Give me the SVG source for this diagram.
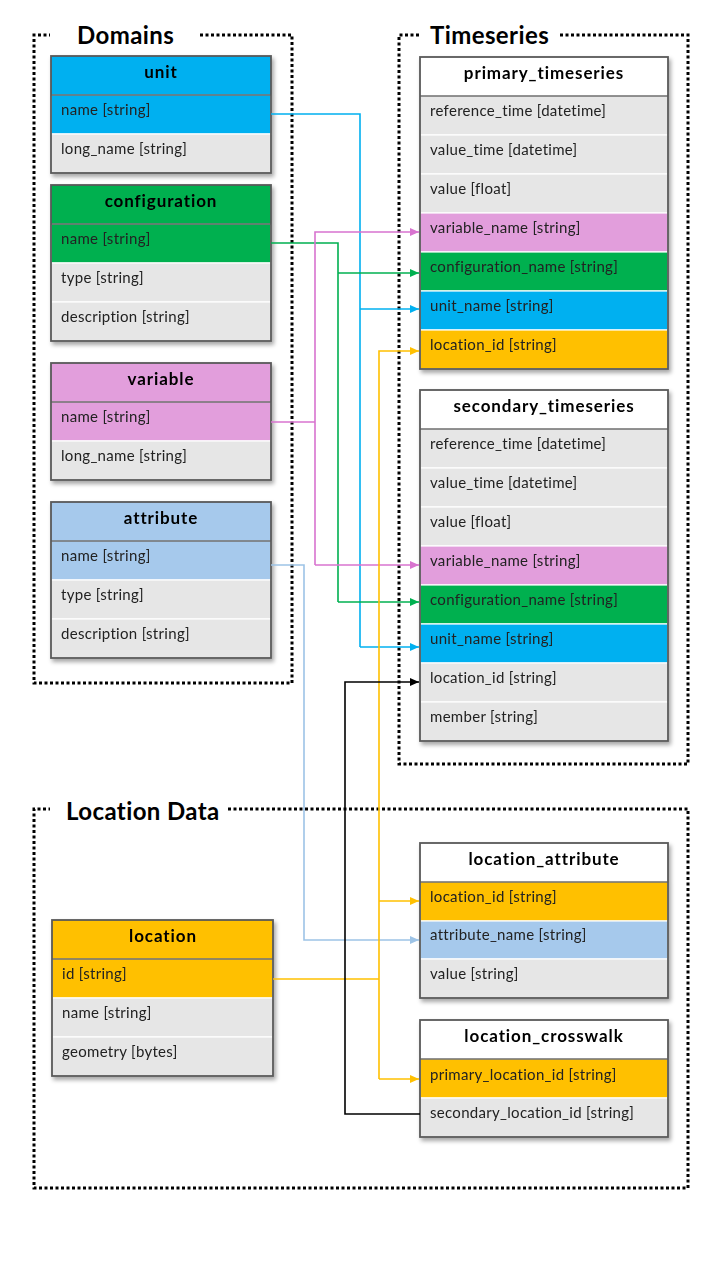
<svg xmlns="http://www.w3.org/2000/svg" width="720" height="1280" viewBox="0 0 720 1280">
<style>
.bg{fill:#ffffff}
.grp{fill:none;stroke:#000;stroke-width:3;stroke-dasharray:3 2.5}
.gt{font-family:Lato,"Liberation Sans",sans-serif;font-weight:bold;font-size:24px;letter-spacing:0.4px;fill:#000}
.hd{font-family:Lato,"Liberation Sans",sans-serif;font-weight:bold;font-size:17px;letter-spacing:0.9px;fill:#000;text-anchor:middle}
.rt{font-family:Lato,"Liberation Sans",sans-serif;font-size:15px;letter-spacing:0.3px;fill:#222}
.row{stroke:#ffffff;stroke-width:1.2}
.ol{fill:none;stroke:#595959;stroke-width:1.8}
.hl{stroke:#262626;stroke-width:1.2}
.gray{fill:#e6e6e6}
.white{fill:#ffffff}
.blue{fill:#00b0f0}
.green{fill:#00b050}
.pink{fill:#e29edc}
.lblue{fill:#a6c9ec}
.yellow{fill:#ffc000}
.c{fill:none;stroke-width:1.6}
</style>
<defs>
<filter id="sh" x="-10%" y="-10%" width="130%" height="130%">
<feDropShadow dx="2" dy="3" stdDeviation="2" flood-color="#000" flood-opacity="0.35"/>
</filter>
<marker id="aBlue" markerWidth="10" markerHeight="10" refX="9" refY="5" orient="auto" markerUnits="userSpaceOnUse"><path d="M0,1 L9,5 L0,9 Z" fill="#00b0f0"/></marker>
<marker id="aGreen" markerWidth="10" markerHeight="10" refX="9" refY="5" orient="auto" markerUnits="userSpaceOnUse"><path d="M0,1 L9,5 L0,9 Z" fill="#00b050"/></marker>
<marker id="aPink" markerWidth="10" markerHeight="10" refX="9" refY="5" orient="auto" markerUnits="userSpaceOnUse"><path d="M0,1 L9,5 L0,9 Z" fill="#d873cf"/></marker>
<marker id="aLBlue" markerWidth="10" markerHeight="10" refX="9" refY="5" orient="auto" markerUnits="userSpaceOnUse"><path d="M0,1 L9,5 L0,9 Z" fill="#9dc3e6"/></marker>
<marker id="aYellow" markerWidth="10" markerHeight="10" refX="9" refY="5" orient="auto" markerUnits="userSpaceOnUse"><path d="M0,1 L9,5 L0,9 Z" fill="#ffc000"/></marker>
<marker id="aBlack" markerWidth="10" markerHeight="10" refX="9" refY="5" orient="auto" markerUnits="userSpaceOnUse"><path d="M0,1 L9,5 L0,9 Z" fill="#000"/></marker>
</defs>
<rect class="bg" x="0" y="0" width="720" height="1280"/>

<g id="groups">
<path class="grp" d="M200,35 H292 V683 H34 V35 H50"/>
<text class="gt" x="77" y="44">Domains</text>
<path class="grp" d="M560,35 H688 V764 H399 V35 H420"/>
<text class="gt" x="430" y="44">Timeseries</text>
<path class="grp" d="M228,809 H688 V1188 H34 V809 H50"/>
<text class="gt" x="66" y="820">Location Data</text>
</g>

<g id="unit" filter="url(#sh)">
<rect class="blue" x="51" y="56" width="220" height="39"/>
<rect class="blue row" x="51" y="95" width="220" height="39"/>
<rect class="gray row" x="51" y="134" width="220" height="39"/>
<line class="hl" x1="51" y1="95" x2="271" y2="95"/>
<rect class="ol" x="51" y="56" width="220" height="117"/>
<text class="hd" x="161" y="78">unit</text>
<text class="rt" x="61" y="115">name [string]</text>
<text class="rt" x="61" y="154">long_name [string]</text>
</g>

<g id="configuration" filter="url(#sh)">
<rect class="green" x="51" y="185" width="220" height="39"/>
<rect class="green row" x="51" y="224" width="220" height="39"/>
<rect class="gray row" x="51" y="263" width="220" height="39"/>
<rect class="gray row" x="51" y="302" width="220" height="39"/>
<line class="hl" x1="51" y1="224" x2="271" y2="224"/>
<rect class="ol" x="51" y="185" width="220" height="156"/>
<text class="hd" x="161" y="207">configuration</text>
<text class="rt" x="61" y="244">name [string]</text>
<text class="rt" x="61" y="283">type [string]</text>
<text class="rt" x="61" y="322">description [string]</text>
</g>

<g id="variable" filter="url(#sh)">
<rect class="pink" x="51" y="363" width="220" height="39"/>
<rect class="pink row" x="51" y="402" width="220" height="39"/>
<rect class="gray row" x="51" y="441" width="220" height="39"/>
<line class="hl" x1="51" y1="402" x2="271" y2="402"/>
<rect class="ol" x="51" y="363" width="220" height="117"/>
<text class="hd" x="161" y="385">variable</text>
<text class="rt" x="61" y="422">name [string]</text>
<text class="rt" x="61" y="461">long_name [string]</text>
</g>

<g id="attribute" filter="url(#sh)">
<rect class="lblue" x="51" y="502" width="220" height="39"/>
<rect class="lblue row" x="51" y="541" width="220" height="39"/>
<rect class="gray row" x="51" y="580" width="220" height="39"/>
<rect class="gray row" x="51" y="619" width="220" height="39"/>
<line class="hl" x1="51" y1="541" x2="271" y2="541"/>
<rect class="ol" x="51" y="502" width="220" height="156"/>
<text class="hd" x="161" y="524">attribute</text>
<text class="rt" x="61" y="561">name [string]</text>
<text class="rt" x="61" y="600">type [string]</text>
<text class="rt" x="61" y="639">description [string]</text>
</g>

<g id="primary_timeseries" filter="url(#sh)">
<rect class="white" x="420" y="57" width="248" height="39"/>
<rect class="gray row" x="420" y="96" width="248" height="39"/>
<rect class="gray row" x="420" y="135" width="248" height="39"/>
<rect class="gray row" x="420" y="174" width="248" height="39"/>
<rect class="pink row" x="420" y="213" width="248" height="39"/>
<rect class="green row" x="420" y="252" width="248" height="39"/>
<rect class="blue row" x="420" y="291" width="248" height="39"/>
<rect class="yellow row" x="420" y="330" width="248" height="39"/>
<line class="hl" x1="420" y1="96" x2="668" y2="96"/>
<rect class="ol" x="420" y="57" width="248" height="312"/>
<text class="hd" x="544" y="79">primary_timeseries</text>
<text class="rt" x="430" y="116">reference_time [datetime]</text>
<text class="rt" x="430" y="155">value_time [datetime]</text>
<text class="rt" x="430" y="194">value [float]</text>
<text class="rt" x="430" y="233">variable_name [string]</text>
<text class="rt" x="430" y="272">configuration_name [string]</text>
<text class="rt" x="430" y="311">unit_name [string]</text>
<text class="rt" x="430" y="350">location_id [string]</text>
</g>

<g id="secondary_timeseries" filter="url(#sh)">
<rect class="white" x="420" y="390" width="248" height="39"/>
<rect class="gray row" x="420" y="429" width="248" height="39"/>
<rect class="gray row" x="420" y="468" width="248" height="39"/>
<rect class="gray row" x="420" y="507" width="248" height="39"/>
<rect class="pink row" x="420" y="546" width="248" height="39"/>
<rect class="green row" x="420" y="585" width="248" height="39"/>
<rect class="blue row" x="420" y="624" width="248" height="39"/>
<rect class="gray row" x="420" y="663" width="248" height="39"/>
<rect class="gray row" x="420" y="702" width="248" height="39"/>
<line class="hl" x1="420" y1="429" x2="668" y2="429"/>
<rect class="ol" x="420" y="390" width="248" height="351"/>
<text class="hd" x="544" y="412">secondary_timeseries</text>
<text class="rt" x="430" y="449">reference_time [datetime]</text>
<text class="rt" x="430" y="488">value_time [datetime]</text>
<text class="rt" x="430" y="527">value [float]</text>
<text class="rt" x="430" y="566">variable_name [string]</text>
<text class="rt" x="430" y="605">configuration_name [string]</text>
<text class="rt" x="430" y="644">unit_name [string]</text>
<text class="rt" x="430" y="683">location_id [string]</text>
<text class="rt" x="430" y="722">member [string]</text>
</g>

<g id="location" filter="url(#sh)">
<rect class="yellow" x="52" y="920" width="221" height="39"/>
<rect class="yellow row" x="52" y="959" width="221" height="39"/>
<rect class="gray row" x="52" y="998" width="221" height="39"/>
<rect class="gray row" x="52" y="1037" width="221" height="39"/>
<line class="hl" x1="52" y1="959" x2="273" y2="959"/>
<rect class="ol" x="52" y="920" width="221" height="156"/>
<text class="hd" x="163" y="942">location</text>
<text class="rt" x="62" y="979">id [string]</text>
<text class="rt" x="62" y="1018">name [string]</text>
<text class="rt" x="62" y="1057">geometry [bytes]</text>
</g>

<g id="location_attribute" filter="url(#sh)">
<rect class="white" x="420" y="843" width="248" height="39"/>
<rect class="yellow row" x="420" y="882" width="248" height="39"/>
<rect class="lblue row" x="420" y="921" width="248" height="38"/>
<rect class="gray row" x="420" y="959" width="248" height="39"/>
<line class="hl" x1="420" y1="882" x2="668" y2="882"/>
<rect class="ol" x="420" y="843" width="248" height="155"/>
<text class="hd" x="544" y="865">location_attribute</text>
<text class="rt" x="430" y="902">location_id [string]</text>
<text class="rt" x="430" y="940">attribute_name [string]</text>
<text class="rt" x="430" y="979">value [string]</text>
</g>

<g id="location_crosswalk" filter="url(#sh)">
<rect class="white" x="420" y="1020" width="248" height="39"/>
<rect class="yellow row" x="420" y="1059" width="248" height="39"/>
<rect class="gray row" x="420" y="1098" width="248" height="39"/>
<line class="hl" x1="420" y1="1059" x2="668" y2="1059"/>
<rect class="ol" x="420" y="1020" width="248" height="117"/>
<text class="hd" x="544" y="1042">location_crosswalk</text>
<text class="rt" x="430" y="1080">primary_location_id [string]</text>
<text class="rt" x="430" y="1118">secondary_location_id [string]</text>
</g>

<g id="connectors">
<path class="c" stroke="#00b0f0" d="M271,114 H360 V647"/>
<path class="c" stroke="#00b0f0" d="M360,309 H419" marker-end="url(#aBlue)"/>
<path class="c" stroke="#00b0f0" d="M360,647 H419" marker-end="url(#aBlue)"/>
<path class="c" stroke="#00b050" d="M271,243 H338 V602"/>
<path class="c" stroke="#00b050" d="M338,273 H419" marker-end="url(#aGreen)"/>
<path class="c" stroke="#00b050" d="M338,602 H419" marker-end="url(#aGreen)"/>
<path class="c" stroke="#d873cf" d="M271,422 H315"/>
<path class="c" stroke="#d873cf" d="M315,565 V232 H419" marker-end="url(#aPink)"/>
<path class="c" stroke="#d873cf" d="M315,565 H419" marker-end="url(#aPink)"/>
<path class="c" stroke="#9dc3e6" d="M271,565 H304 V940 H419" marker-end="url(#aLBlue)"/>
<path class="c" stroke="#ffc000" d="M273,979 H379"/>
<path class="c" stroke="#ffc000" d="M379,1079 V351 H419" marker-end="url(#aYellow)"/>
<path class="c" stroke="#ffc000" d="M379,901 H419" marker-end="url(#aYellow)"/>
<path class="c" stroke="#ffc000" d="M379,1079 H419" marker-end="url(#aYellow)"/>
<path class="c" stroke="#000" d="M420,1114 H345 V682 H419" marker-end="url(#aBlack)"/>
</g>
</svg>
